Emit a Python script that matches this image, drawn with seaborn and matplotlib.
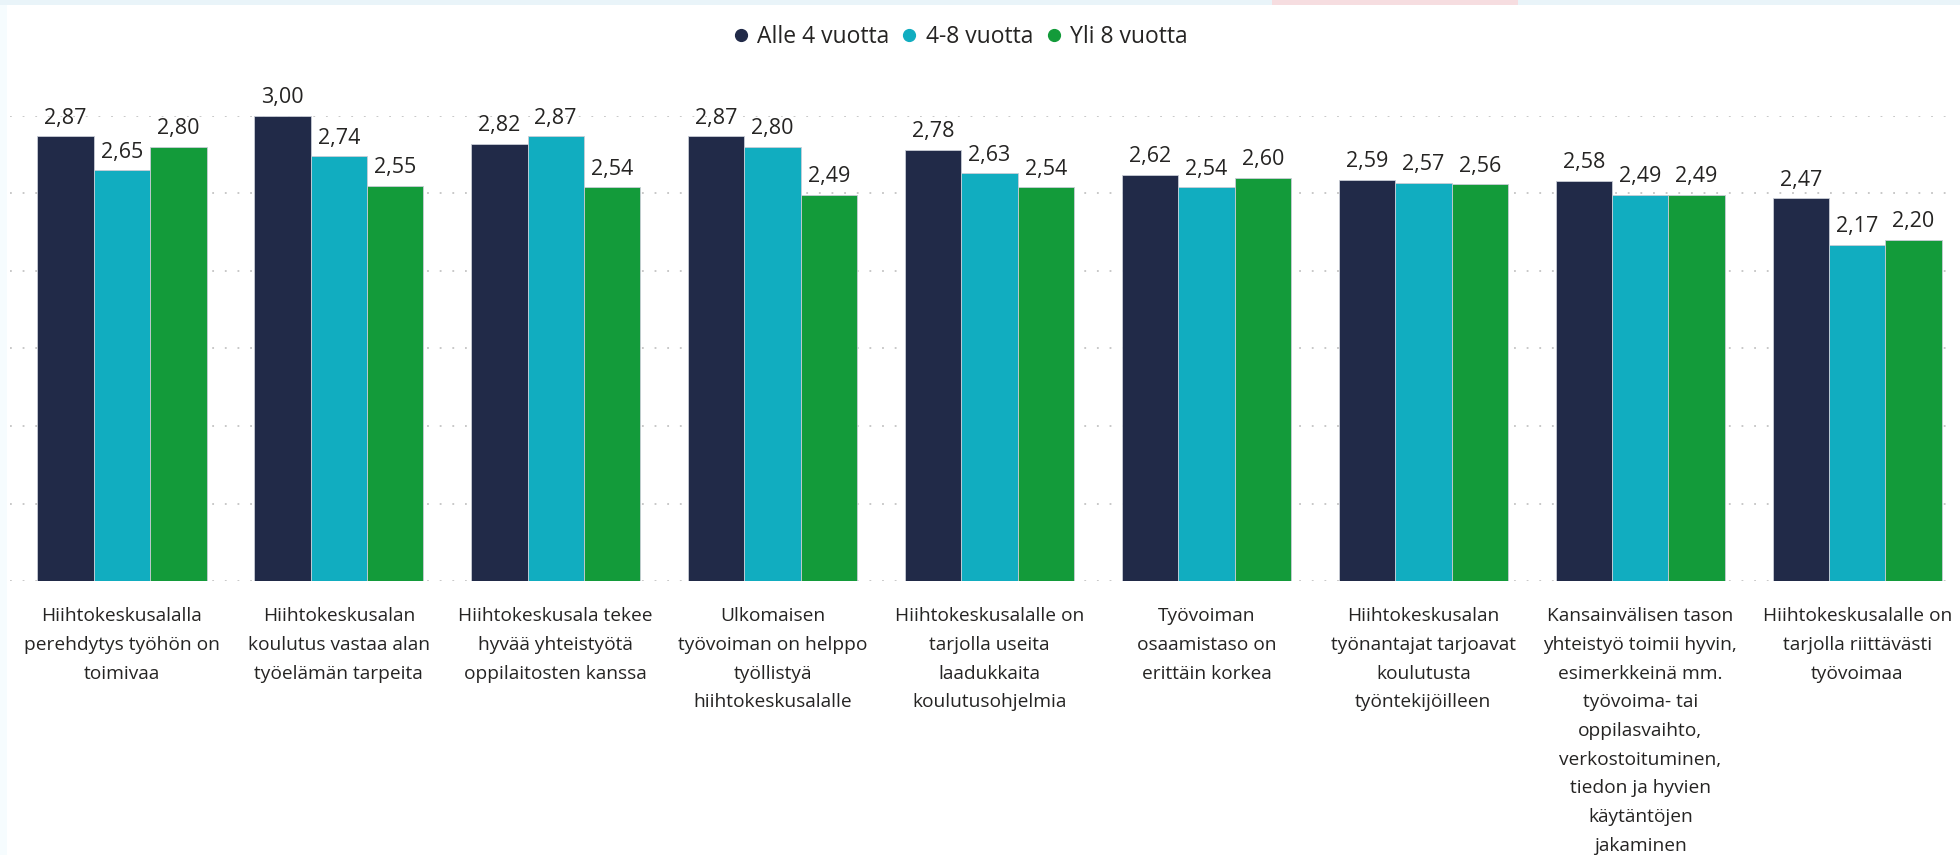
import matplotlib
matplotlib.use("Agg")
import matplotlib.pyplot as plt
from matplotlib.lines import Line2D
from matplotlib.patches import Rectangle
import seaborn as sns
import pandas as pd
import numpy as np

categories = [
    "Hiihtokeskusalalla\nperehdytys työhön on\ntoimivaa",
    "Hiihtokeskusalan\nkoulutus vastaa alan\ntyöelämän tarpeita",
    "Hiihtokeskusala tekee\nhyvää yhteistyötä\noppilaitosten kanssa",
    "Ulkomaisen\ntyövoiman on helppo\ntyöllistyä\nhiihtokeskusalalle",
    "Hiihtokeskusalalle on\ntarjolla useita\nlaadukkaita\nkoulutusohjelmia",
    "Työvoiman\nosaamistaso on\nerittäin korkea",
    "Hiihtokeskusalan\ntyönantajat tarjoavat\nkoulutusta\ntyöntekijöilleen",
    "Kansainvälisen tason\nyhteistyö toimii hyvin,\nesimerkkeinä mm.\ntyövoima- tai\noppilasvaihto,\nverkostoituminen,\ntiedon ja hyvien\nkäytäntöjen\njakaminen",
    "Hiihtokeskusalalle on\ntarjolla riittävästi\ntyövoimaa",
]
series_names = ["Alle 4 vuotta", "4-8 vuotta", "Yli 8 vuotta"]
alle4 = [2.87, 3.00, 2.82, 2.87, 2.78, 2.62, 2.59, 2.58, 2.47]
v4_8 = [2.65, 2.74, 2.87, 2.80, 2.63, 2.54, 2.57, 2.49, 2.17]
yli8 = [2.80, 2.55, 2.54, 2.49, 2.54, 2.60, 2.56, 2.49, 2.20]
colors = ["#212A48", "#11ADC0", "#139B3A"]

rows = []
for name, vals in zip(series_names, [alle4, v4_8, yli8]):
    for c, v in zip(categories, vals):
        rows.append({"cat": c, "group": name, "val": v})
df = pd.DataFrame(rows)

sns.set_theme(style="white")
plt.rcParams["font.family"] = ["Open Sans", "DejaVu Sans"]
TXT = "#252423"

W, H = 1960, 855
fig = plt.figure(figsize=(W / 100, H / 100), dpi=100)
fig.patch.set_facecolor("white")

# faint screenshot edges
fig.add_artist(Rectangle((0, 0), 7 / W, 1, transform=fig.transFigure,
                         facecolor="#F6FCFE", edgecolor="none", zorder=0))
fig.add_artist(Rectangle((0, 1 - 5 / H), 1, 5 / H, transform=fig.transFigure,
                         facecolor="#E9F4F9", edgecolor="none", zorder=0))
fig.add_artist(Rectangle((1272 / W, 1 - 5 / H), (1518 - 1272) / W, 5 / H,
                         transform=fig.transFigure, facecolor="#F6DDE0",
                         edgecolor="none", zorder=0))

# axes placement in pixels
x0, x1 = 10, 1955
y_base, y_top = 581, 116
ax = fig.add_axes([x0 / W, (H - y_base) / H, (x1 - x0) / W, (y_base - y_top) / H])
ax.patch.set_alpha(0)

sns.barplot(data=df, x="cat", y="val", hue="group", hue_order=series_names,
            order=categories, palette=colors, width=0.78, saturation=1,
            dodge=True, legend=False, ax=ax, edgecolor="#c9cdd6", linewidth=0.6)

ax.set_xlim(-0.516, 8.451)
ax.set_ylim(0, 3.0)
ax.set_yticks(np.arange(0, 3.01, 0.5))
ax.yaxis.grid(True, color="#C4C4C4", linestyle=(0, (1, 6)), linewidth=1.3)
ax.set_axisbelow(True)
ax.tick_params(axis="y", left=False, labelleft=False)
ax.tick_params(axis="x", length=0, pad=19)
for s in ax.spines.values():
    s.set_visible(False)
ax.set_xlabel("")
ax.set_ylabel("")
ax.set_xticks(range(len(categories)))
ax.set_xticklabels(categories, fontsize=13.8, color=TXT, linespacing=1.76,
                   va="top", ha="center")

for cont in ax.containers:
    labels = [f"{b.get_height():.2f}".replace(".", ",") for b in cont]
    ax.bar_label(cont, labels=labels, padding=5.5, fontsize=15.5, color=TXT)

handles = [Line2D([], [], marker="o", linestyle="", markersize=8.5,
                  markerfacecolor=c, markeredgecolor=c) for c in colors]
fig.legend(handles, series_names, loc="center", bbox_to_anchor=(961 / W, 1 - 37 / H),
           ncol=3, frameon=False, fontsize=16.5, handletextpad=0.45,
           columnspacing=0.6, labelcolor=TXT, handlelength=0.55, borderpad=0)

fig.savefig("out.png", dpi=100, facecolor="white")
